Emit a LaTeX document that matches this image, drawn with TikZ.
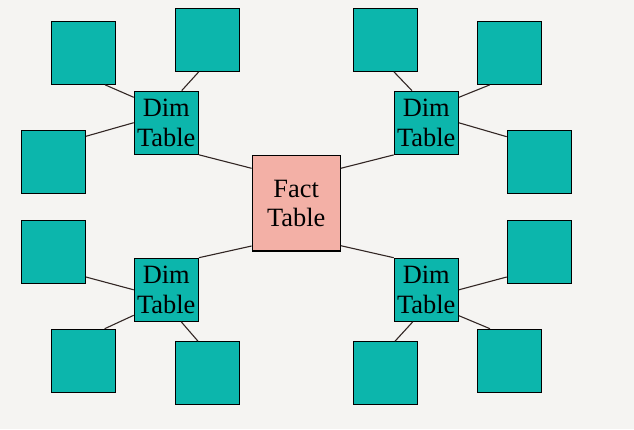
\documentclass[tikz,border=0pt]{standalone}
\usepackage{fontspec}
\setmainfont{Liberation Serif}
\definecolor{bgc}{RGB}{245,244,242}
\definecolor{tealc}{RGB}{12,182,172}
\definecolor{pinkc}{RGB}{243,176,166}
\definecolor{linec}{RGB}{50,38,36}
\tikzset{
  sq/.style={draw=black, line width=1.2pt, fill=tealc, minimum width=64pt, minimum height=63pt, inner sep=0pt},
  dimbox/.style={sq, align=center, font=\fontsize{26.4}{29.4}\selectfont, text=black},
  factbox/.style={draw=black, line width=1.2pt, fill=pinkc, minimum width=88pt, minimum height=95.7pt, inner sep=0pt, align=center, font=\fontsize{26.4}{29}\selectfont, text=black},
  conn/.style={draw=linec, line width=1.1pt}
}
\begin{document}
\begin{tikzpicture}[x=1pt,y=-1pt]
\fill[bgc] (0,0) rectangle (634,429);
\useasboundingbox (0,0) rectangle (634,429);
% fact
\node[factbox] (fact) at (296.2,203.2) {Fact\\Table};
% dims
\node[dimbox] (dtl) at (166.3,122.7) {Dim\\Table};
\node[dimbox] (dtr) at (426.3,122.8) {Dim\\Table};
\node[dimbox] (dbl) at (166.3,289.8) {Dim\\Table};
\node[dimbox] (dbr) at (426.3,289.8) {Dim\\Table};
% small squares
\node[sq] (a) at (83.3,52.7) {};
\node[sq] (b) at (207.3,39.8) {};
\node[sq] (c) at (53.3,161.8) {};
\node[sq] (d) at (385.3,39.8) {};
\node[sq] (e) at (509.3,52.8) {};
\node[sq] (f) at (539.3,161.8) {};
\node[sq] (g) at (53.3,251.8) {};
\node[sq] (h) at (83.3,360.8) {};
\node[sq] (i) at (207.3,373.3) {};
\node[sq] (j) at (539.3,251.8) {};
\node[sq] (k) at (385.3,373.3) {};
\node[sq] (l) at (509.3,360.8) {};
% connectors
\draw[conn] ([xshift=21.7pt]a.south) -- ([yshift=25.4pt]dtl.west);
\draw[conn] ([xshift=-8.6pt]b.south) -- ([xshift=15.4pt]dtl.north);
\draw[conn] ([yshift=25.5pt]c.east) -- (dtl.west);
\draw[conn] (dtl.south east) -- ([yshift=34.9pt]fact.west);
\draw[conn] ([xshift=8.7pt]d.south) -- ([xshift=-14.3pt]dtr.north);
\draw[conn] ([xshift=-19.6pt]e.south) -- ([yshift=25.5pt]dtr.east);
\draw[conn] ([yshift=25.1pt]f.west) -- (dtr.east);
\draw[conn] (dtr.south west) -- ([yshift=34.9pt]fact.east);
\draw[conn] ([yshift=-25.2pt]g.east) -- (dbl.west);
\draw[conn] ([xshift=21.4pt]h.north) -- ([yshift=-25.5pt]dbl.west);
\draw[conn] ([xshift=-9.3pt]i.north) -- ([xshift=15pt]dbl.south);
\draw[conn] (dbl.north east) -- ([yshift=-42.8pt]fact.west);
\draw[conn] (dbr.north west) -- ([yshift=-42.5pt]fact.east);
\draw[conn] ([yshift=-25.2pt]j.west) -- (dbr.east);
\draw[conn] ([xshift=9.7pt]k.north) -- ([xshift=-13.6pt]dbr.south);
\draw[conn] ([xshift=-19.3pt]l.north) -- ([yshift=-25.9pt]dbr.east);
\end{tikzpicture}
\end{document}
